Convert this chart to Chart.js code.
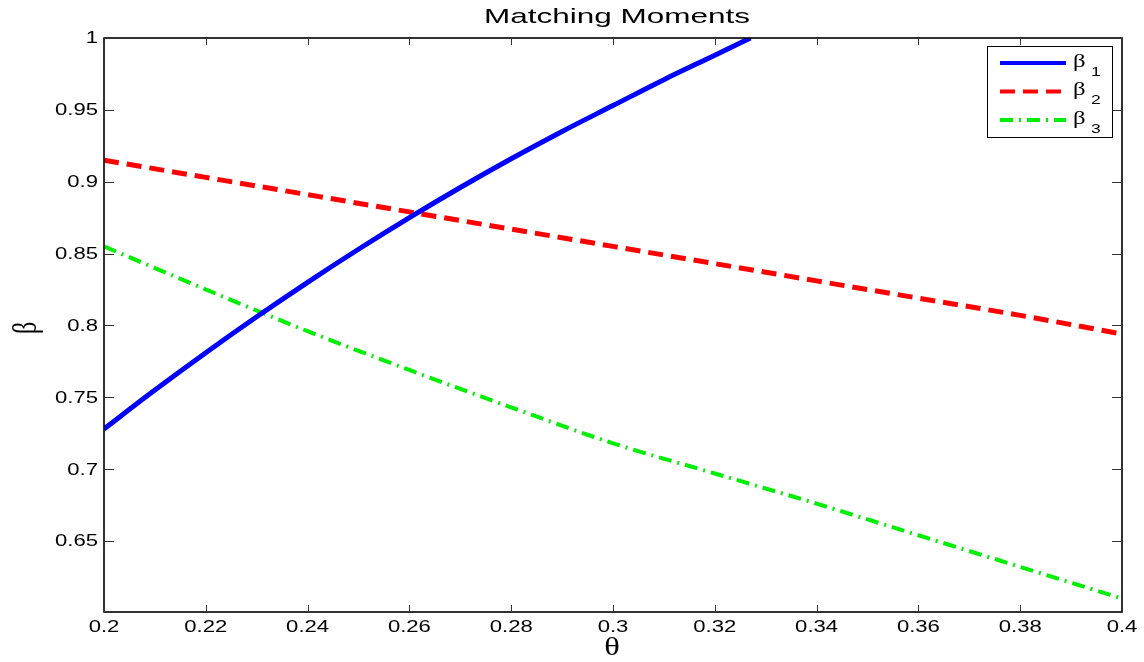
<!DOCTYPE html>
<html>
<head>
<meta charset="utf-8">
<title>Matching Moments</title>
<script src="https://cdn.jsdelivr.net/npm/chart.js@4.4.1/dist/chart.umd.min.js"></script>
<style>
	html, body { margin: 0; padding: 0; background: #fff; }
	.chart-container { position: relative; width: 1144px; height: 662px; }
</style>
</head>
<body>
<div class="chart-container">
	<canvas id="chart" width="1144" height="662"></canvas>
</div>
<script>
// values
const theta1 = [0.2, 0.21, 0.22, 0.23, 0.24, 0.25, 0.26, 0.27, 0.28, 0.29, 0.3, 0.31, 0.32, 0.327];
const beta1 = [0.728, 0.755, 0.781, 0.806, 0.83, 0.853, 0.875, 0.896, 0.916, 0.935, 0.953, 0.971, 0.988, 1.0];

const theta = [0.2, 0.22, 0.24, 0.26, 0.28, 0.3, 0.32, 0.34, 0.36, 0.38, 0.4];
const beta2 = [0.915, 0.903, 0.891, 0.879, 0.867, 0.855, 0.843, 0.831, 0.819, 0.807, 0.794];
const beta3 = [0.855, 0.825, 0.796, 0.769, 0.743, 0.718, 0.697, 0.676, 0.654, 0.632, 0.61];

const xTicks = [0.2, 0.22, 0.24, 0.26, 0.28, 0.3, 0.32, 0.34, 0.36, 0.38, 0.4];
const yTicks = [0.65, 0.7, 0.75, 0.8, 0.85, 0.9, 0.95, 1];

const seriesNames = ['1', '2', '3']; // subscripts of beta
const seriesColors = ['#0000ff', '#ff0000', '#00ee00'];
const seriesDashes = [[], [15, 8], [13, 6, 2, 6]];

const toPoints = (xs, ys) => xs.map((x, i) => ({ x: x, y: ys[i] }));
const fmt = v => String(parseFloat(v.toFixed(2)));

const sansFont = '"Liberation Sans", Arial, sans-serif';
const serifFont = '"Liberation Serif", "DejaVu Serif", serif';

// the text in the picture is stretched sideways, so draw it with a x scale
function wideText(ctx, text, x, y, sx, align) {
	ctx.save();
	ctx.translate(x, y);
	ctx.scale(sx, 1);
	ctx.textAlign = align;
	ctx.fillText(text, 0, 0);
	ctx.restore();
}

// box, inward ticks on all four sides, labels, title and the legend (matlab look)
const matlabFrame = {
	id: 'matlabFrame',
	afterDraw(chart) {
		const ctx = chart.ctx;
		const area = chart.chartArea;
		const xs = chart.scales.x;
		const ys = chart.scales.y;

		ctx.save();
		ctx.strokeStyle = '#000';
		ctx.lineWidth = 1.6;
		ctx.strokeRect(area.left, area.top, area.right - area.left, area.bottom - area.top);

		ctx.strokeStyle = '#333';
		ctx.lineWidth = 1;
		ctx.beginPath();
		xs.ticks.forEach(t => {
			const px = Math.round(xs.getPixelForValue(t.value)) + 0.5;
			ctx.moveTo(px, area.bottom);
			ctx.lineTo(px, area.bottom - 7);
			ctx.moveTo(px, area.top);
			ctx.lineTo(px, area.top + 7);
		});
		ys.ticks.forEach(t => {
			const py = Math.round(ys.getPixelForValue(t.value)) + 0.5;
			ctx.moveTo(area.left, py);
			ctx.lineTo(area.left + 10, py);
			ctx.moveTo(area.right, py);
			ctx.lineTo(area.right - 10, py);
		});
		ctx.stroke();

		// tick labels
		ctx.fillStyle = '#000';
		ctx.textBaseline = 'middle';
		ctx.font = '16px ' + sansFont;
		xs.ticks.forEach(t => {
			wideText(ctx, fmt(t.value), xs.getPixelForValue(t.value), area.bottom + 16, 1.38, 'center');
		});
		ys.ticks.forEach(t => {
			wideText(ctx, fmt(t.value), area.left - 6, ys.getPixelForValue(t.value) + 1, 1.38, 'right');
		});

		// title
		ctx.font = '21px ' + sansFont;
		wideText(ctx, 'Matching Moments', (area.left + area.right) / 2 + 4, 17, 1.5, 'center');

		// axis titles
		ctx.font = '25px ' + serifFont;
		wideText(ctx, '\u03b8', (area.left + area.right) / 2 - 1, 648, 1.3, 'center');
		ctx.font = '24px ' + serifFont;
		ctx.save();
		ctx.translate(27, 328);
		ctx.scale(1.4, 1);
		ctx.rotate(-Math.PI / 2);
		ctx.textAlign = 'center';
		ctx.fillText('\u03b2', 0, 0);
		ctx.restore();

		// legend
		const bx = 987, by = 46, bw = 125, bh = 91;
		ctx.fillStyle = '#fff';
		ctx.fillRect(bx, by, bw, bh);
		ctx.strokeStyle = '#000';
		ctx.lineWidth = 1;
		ctx.strokeRect(bx + 0.5, by + 0.5, bw, bh);

		seriesNames.forEach((name, i) => {
			const ly = 63 + i * 28.5;
			ctx.strokeStyle = seriesColors[i];
			ctx.lineWidth = 4;
			ctx.setLineDash(seriesDashes[i]);
			ctx.beginPath();
			ctx.moveTo(1000, ly);
			ctx.lineTo(1066, ly);
			ctx.stroke();
			ctx.setLineDash([]);

			ctx.fillStyle = '#000';
			ctx.textBaseline = 'middle';
			ctx.font = '19px ' + serifFont;
			wideText(ctx, '\u03b2', 1073, ly - 1, 1.3, 'left');
			ctx.font = '13px ' + sansFont;
			wideText(ctx, name, 1091, ly + 9, 1.35, 'left');
		});
		ctx.restore();
	}
};

const data = {
	datasets: [
		{
			label: 'beta 1',
			data: toPoints(theta1, beta1),
			borderColor: seriesColors[0],
			borderWidth: 5,
			borderDash: seriesDashes[0],
			pointRadius: 0,
			cubicInterpolationMode: 'monotone'
		},
		{
			label: 'beta 2',
			data: toPoints(theta, beta2),
			borderColor: seriesColors[1],
			borderWidth: 5,
			borderDash: seriesDashes[1],
			pointRadius: 0,
			cubicInterpolationMode: 'monotone'
		},
		{
			label: 'beta 3',
			data: toPoints(theta, beta3),
			borderColor: seriesColors[2],
			borderWidth: 4,
			borderDash: seriesDashes[2],
			pointRadius: 0,
			cubicInterpolationMode: 'monotone'
		}
	]
};

const config = {
	type: 'line',
	data: data,
	options: {
		responsive: false,
		animation: false,
		devicePixelRatio: 1,
		layout: { padding: { top: 38, right: 22, left: 0, bottom: 0 } },
		plugins: {
			legend: { display: false },
			title: { display: false },
			tooltip: { enabled: false }
		},
		scales: {
			x: {
				type: 'linear',
				min: 0.2,
				max: 0.4,
				afterBuildTicks: scale => {
					scale.ticks = xTicks.map(v => ({ value: v }));
				},
				afterFit: scale => {
					scale.height = 50;
				},
				grid: { display: false },
				border: { display: false },
				ticks: { display: false }
			},
			y: {
				type: 'linear',
				min: 0.6006,
				max: 1,
				afterBuildTicks: scale => {
					scale.ticks = yTicks.map(v => ({ value: v }));
				},
				afterFit: scale => {
					scale.width = 104;
				},
				grid: { display: false },
				border: { display: false },
				ticks: { display: false }
			}
		}
	},
	plugins: [matlabFrame]
};

new Chart(document.getElementById('chart').getContext('2d'), config);
</script>
</body>
</html>
